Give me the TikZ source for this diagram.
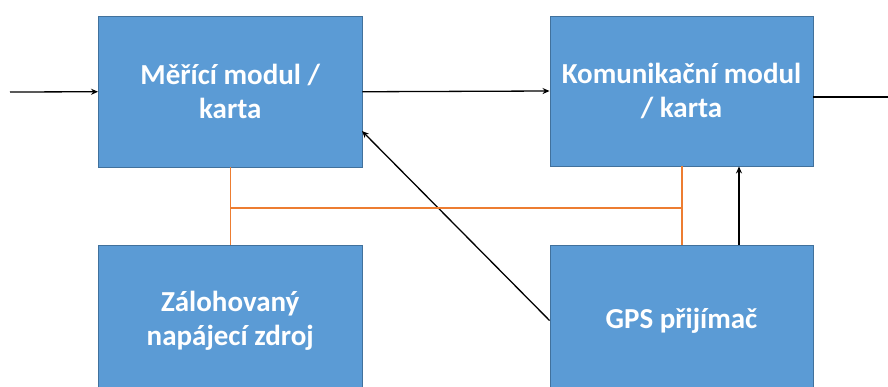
\documentclass[tikz,border=0pt]{standalone}
\usepackage{fontspec}
\setmainfont{Carlito}
\usetikzlibrary{arrows.meta}
\definecolor{boxfill}{HTML}{5B9BD5}
\definecolor{boxline}{HTML}{41719C}
\definecolor{pwr}{HTML}{ED7D31}
\tikzset{
  block/.style={draw=boxline, line width=0.9pt, fill=boxfill, text=white,
    font=\bfseries\fontsize{29}{34}\selectfont, align=center, inner sep=0pt},
  sig/.style={draw=black, line width=1.3pt, -{Stealth[length=7pt,width=6pt]}},
  sigline/.style={draw=black, line width=1.3pt},
  power/.style={draw=pwr, line width=1.5pt}
}
\begin{document}
\begin{tikzpicture}[x=1pt,y=-1pt]
\useasboundingbox (0,0) rectangle (888,387);
\clip (0,0) rectangle (888,387);
\node[block, minimum width=263.5pt, minimum height=150.5pt] (m) at (230.25,91.75) {Měřící modul /\\karta};
\node[block, minimum width=263pt, minimum height=150pt] (k) at (681.5,91) {Komunikační modul\\/ karta};
\node[block, minimum width=263.5pt, minimum height=151pt] (z) at (230.25,320.5) {Zálohovaný\\napájecí zdroj};
\node[block, minimum width=263pt, minimum height=151pt] (g) at (681.5,320.5) {GPS přijímač};
\coordinate (in) at (10,92);
\coordinate (out) at (888,97);
\coordinate (mt) at (362,131);
\coordinate (gv) at (739,245);
\coordinate (oj) at (682,208);
\draw[sig] (in) -- (m.west);
\draw[sig] (m.east) -- (k.west);
\draw[sigline] (k.east |- out) -- (out);
\draw[sig] (g.west) -- (mt);
\draw[sig] (gv) -- (gv |- k.south);
\draw[power] (m.south) -- (z.north);
\draw[power] (m.south |- oj) -- (oj);
\draw[power] (oj |- k.south) -- (oj |- g.north);
\end{tikzpicture}
\end{document}
